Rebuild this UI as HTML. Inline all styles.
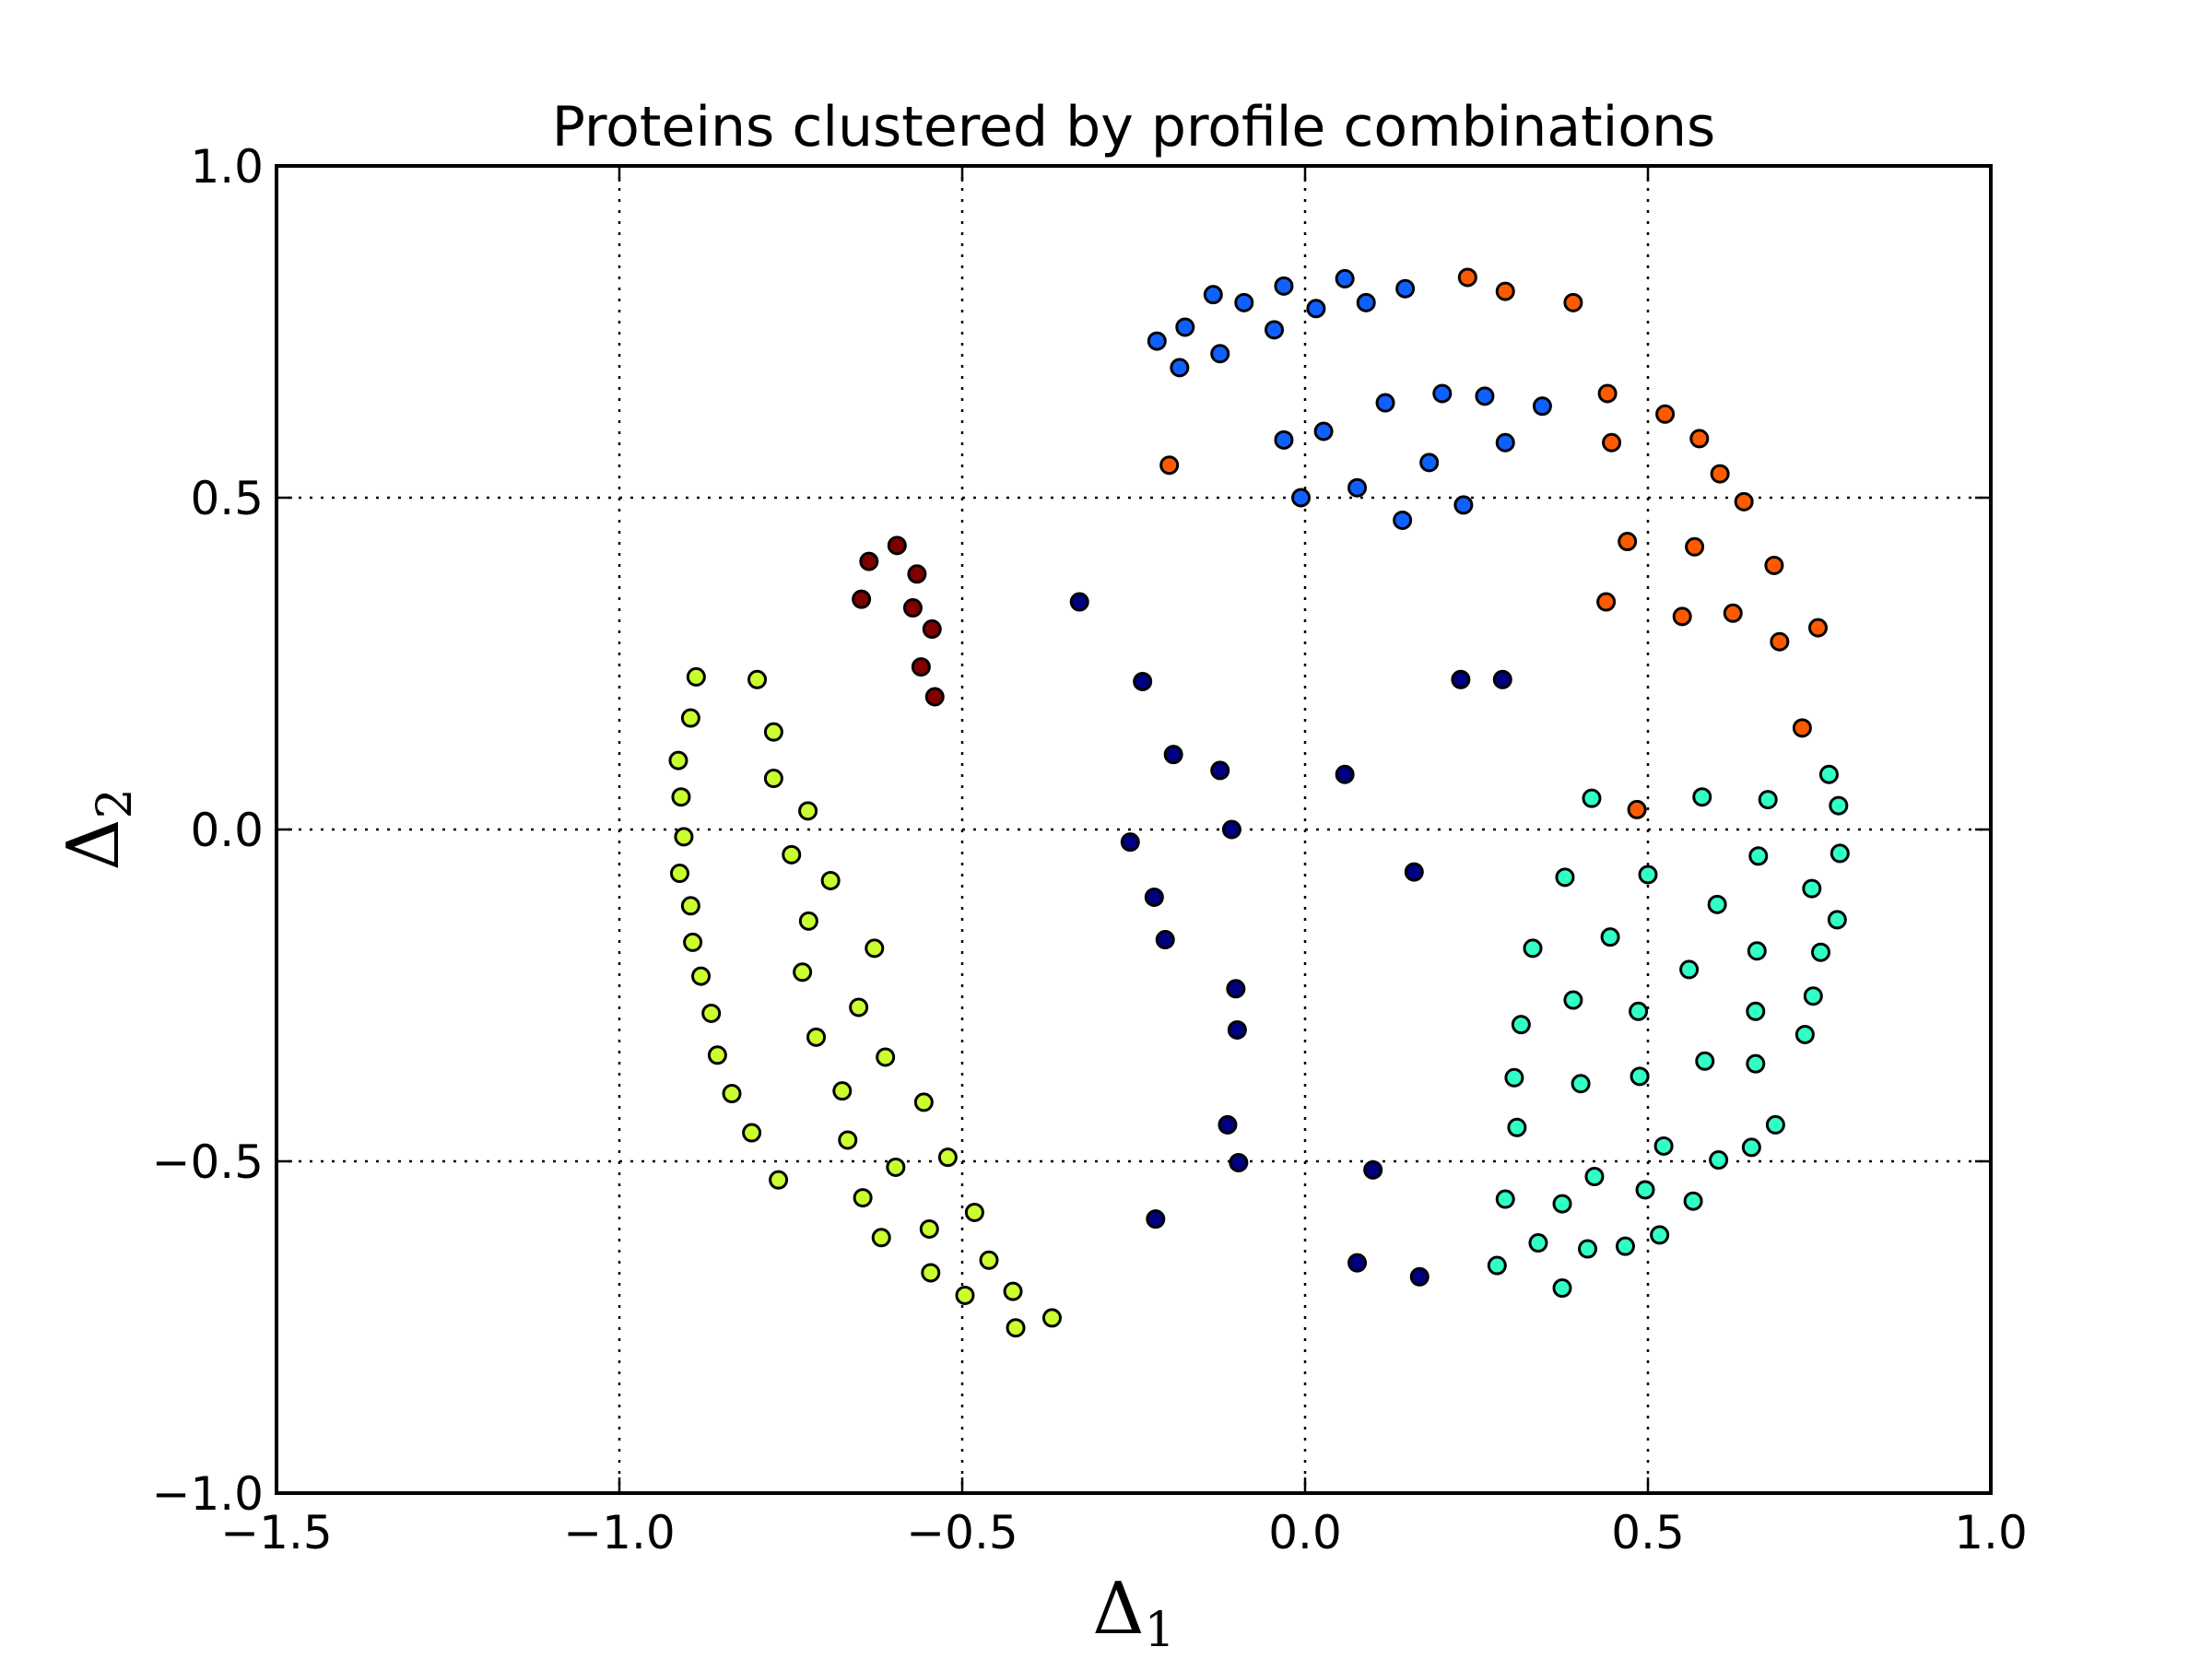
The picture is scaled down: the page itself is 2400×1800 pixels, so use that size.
<!DOCTYPE html>
<html><head><meta charset="utf-8"><style>html,body{margin:0;padding:0;background:#fff}svg{display:block}</style></head>
<body>
<svg id="chart" width="2400" height="1800" viewBox="0 0 2400 1800" xmlns="http://www.w3.org/2000/svg">
<rect width="2400" height="1800" fill="#fff"/>
<text x="1230" y="158" font-family="DejaVu Sans, Liberation Sans, sans-serif" font-size="60" text-anchor="middle">Proteins clustered by profile combinations</text>
<g id="grid"></g>
<g id="points"></g>
<rect x="300" y="180" width="1860" height="1440" fill="none" stroke="#000" stroke-width="4"/>
<g id="ticks"></g>
<text x="1230" y="1772" font-family="DejaVu Serif, Liberation Serif, serif" font-size="78" text-anchor="middle">Δ<tspan font-size="52" dy="14">1</tspan></text>
<text transform="translate(128,900) rotate(-90)" font-family="DejaVu Serif, Liberation Serif, serif" font-size="78" text-anchor="middle">Δ<tspan font-size="52" dy="14">2</tspan></text>
</svg>
<script>
const xTicks = [-1.5, -1.0, -0.5, 0.0, 0.5, 1.0];
const xTickLabels = ["\u22121.5", "\u22121.0", "\u22120.5", "0.0", "0.5", "1.0"];
const yTicks = [-1.0, -0.5, 0.0, 0.5, 1.0];
const yTickLabels = ["\u22121.0", "\u22120.5", "0.0", "0.5", "1.0"];
const clusterColors = ["#1060ff", "#ff5a00", "#800000", "#000080", "#c9ff2f", "#30ffc6"];
const clusterNames = ["blue", "orange", "darkred", "navy", "yellowgreen", "cyan"];
const blueX = [-0.216,-0.175,-0.134,-0.089,-0.031,0.058,0.016,0.089,0.146,-0.183,-0.124,-0.045,0.117,0.200,0.262,0.346,-0.031,0.027,0.292,0.181,-0.006,0.076,0.231,0.142];
const blueY = [0.736,0.757,0.806,0.794,0.819,0.830,0.785,0.794,0.815,0.696,0.717,0.753,0.643,0.657,0.653,0.638,0.587,0.600,0.583,0.553,0.500,0.515,0.489,0.466];
const orangeX = [0.237,0.292,0.391,-0.198,0.441,0.525,0.575,0.447,0.605,0.640,0.470,0.568,0.684,0.439,0.550,0.624,0.748,0.692,0.725,0.484];
const orangeY = [0.832,0.811,0.794,0.549,0.657,0.626,0.589,0.583,0.536,0.494,0.434,0.426,0.398,0.343,0.321,0.326,0.304,0.283,0.153,0.030];
const redX = [-0.636,-0.595,-0.566,-0.647,-0.572,-0.544,-0.560,-0.540];
const redY = [0.404,0.428,0.385,0.347,0.334,0.302,0.245,0.200];
const navyX = [-0.329,-0.237,0.227,0.288,-0.192,-0.124,0.058,-0.107,-0.255,0.159,-0.220,-0.204,-0.101,-0.099,-0.113,-0.097,0.099,-0.218,0.076,0.167];
const navyY = [0.343,0.223,0.226,0.226,0.113,0.089,0.083,0.000,-0.019,-0.064,-0.102,-0.166,-0.240,-0.302,-0.445,-0.502,-0.513,-0.587,-0.653,-0.674];
const yellowX = [-0.888,-0.799,-0.896,-0.775,-0.914,-0.910,-0.775,-0.725,-0.906,-0.749,-0.912,-0.692,-0.896,-0.724,-0.893,-0.628,-0.733,-0.881,-0.651,-0.866,-0.713,-0.612,-0.857,-0.675,-0.836,-0.556,-0.807,-0.667,-0.521,-0.597,-0.768,-0.645,-0.482,-0.548,-0.618,-0.461,-0.546,-0.496,-0.426,-0.422,-0.369];
const yellowY = [0.230,0.226,0.168,0.147,0.104,0.049,0.077,0.028,-0.011,-0.038,-0.066,-0.077,-0.115,-0.138,-0.170,-0.179,-0.215,-0.221,-0.268,-0.277,-0.313,-0.343,-0.340,-0.394,-0.398,-0.411,-0.457,-0.468,-0.494,-0.509,-0.528,-0.555,-0.577,-0.602,-0.615,-0.649,-0.668,-0.702,-0.696,-0.751,-0.736];
const cyanX = [0.418,0.579,0.675,0.764,0.778,0.379,0.500,0.661,0.780,0.601,0.739,0.776,0.332,0.445,0.659,0.752,0.560,0.391,0.741,0.486,0.657,0.315,0.729,0.583,0.657,0.305,0.488,0.402,0.309,0.686,0.523,0.651,0.603,0.422,0.496,0.292,0.375,0.566,0.517,0.340,0.412,0.467,0.280,0.375];
const cyanY = [0.047,0.049,0.045,0.083,0.036,-0.072,-0.068,-0.040,-0.036,-0.113,-0.089,-0.136,-0.179,-0.162,-0.183,-0.185,-0.211,-0.257,-0.251,-0.274,-0.274,-0.294,-0.309,-0.349,-0.353,-0.374,-0.372,-0.383,-0.449,-0.445,-0.477,-0.479,-0.498,-0.523,-0.543,-0.557,-0.564,-0.560,-0.611,-0.623,-0.632,-0.628,-0.657,-0.691];

const L=300,R=2160,T=180,B=1620,xMin=-1.5,xMax=1.0,yMin=-1.0,yMax=1.0;
function sx(v){return L+(v-xMin)/(xMax-xMin)*(R-L);}
function sy(v){return B-(v-yMin)/(yMax-yMin)*(B-T);}
const NS="http://www.w3.org/2000/svg";
function mk(tag,attrs,parent){const e=document.createElementNS(NS,tag);for(const k in attrs)e.setAttribute(k,attrs[k]);parent.appendChild(e);return e;}
const grid=document.getElementById('grid'),ticks=document.getElementById('ticks'),pts=document.getElementById('points');
xTicks.forEach((v,i)=>{
  const x=sx(v);
  if(i>0&&i<xTicks.length-1){const g=mk('line',{x1:x,x2:x,y1:T,y2:B,stroke:'#000','stroke-width':2.5,'stroke-dasharray':'3 9'},grid);
  
  }
  mk('line',{x1:x,x2:x,y1:B,y2:B-17,stroke:'#000','stroke-width':2.5},ticks);
  mk('line',{x1:x,x2:x,y1:T,y2:T+17,stroke:'#000','stroke-width':2.5},ticks);
  const t=mk('text',{x:x,y:1680,'font-family':'DejaVu Sans, Liberation Sans, sans-serif','font-size':50,'text-anchor':'middle'},ticks);
  t.textContent=xTickLabels[i];
  
  
});
yTicks.forEach((v,i)=>{
  const y=sy(v);
  if(i>0&&i<yTicks.length-1){const g=mk('line',{x1:L,x2:R,y1:y,y2:y,stroke:'#000','stroke-width':2.5,'stroke-dasharray':'3 9'},grid);
  
  }
  mk('line',{x1:L,x2:L+17,y1:y,y2:y,stroke:'#000','stroke-width':2.5},ticks);
  mk('line',{x1:R,x2:R-17,y1:y,y2:y,stroke:'#000','stroke-width':2.5},ticks);
  const t=mk('text',{x:286,y:y+18,'font-family':'DejaVu Sans, Liberation Sans, sans-serif','font-size':50,'text-anchor':'end'},ticks);
  t.textContent=yTickLabels[i];
  
  
});
const series=[[blueX,blueY],[orangeX,orangeY],[redX,redY],[navyX,navyY],[yellowX,yellowY],[cyanX,cyanY]];
series.forEach((s,ci)=>{
  s[0].forEach((xv,j)=>{
    const c=mk('circle',{cx:sx(xv),cy:sy(s[1][j]),r:9,fill:clusterColors[ci],stroke:'#000','stroke-width':3},pts);
    
    
  });
});
</script>
</body></html>
